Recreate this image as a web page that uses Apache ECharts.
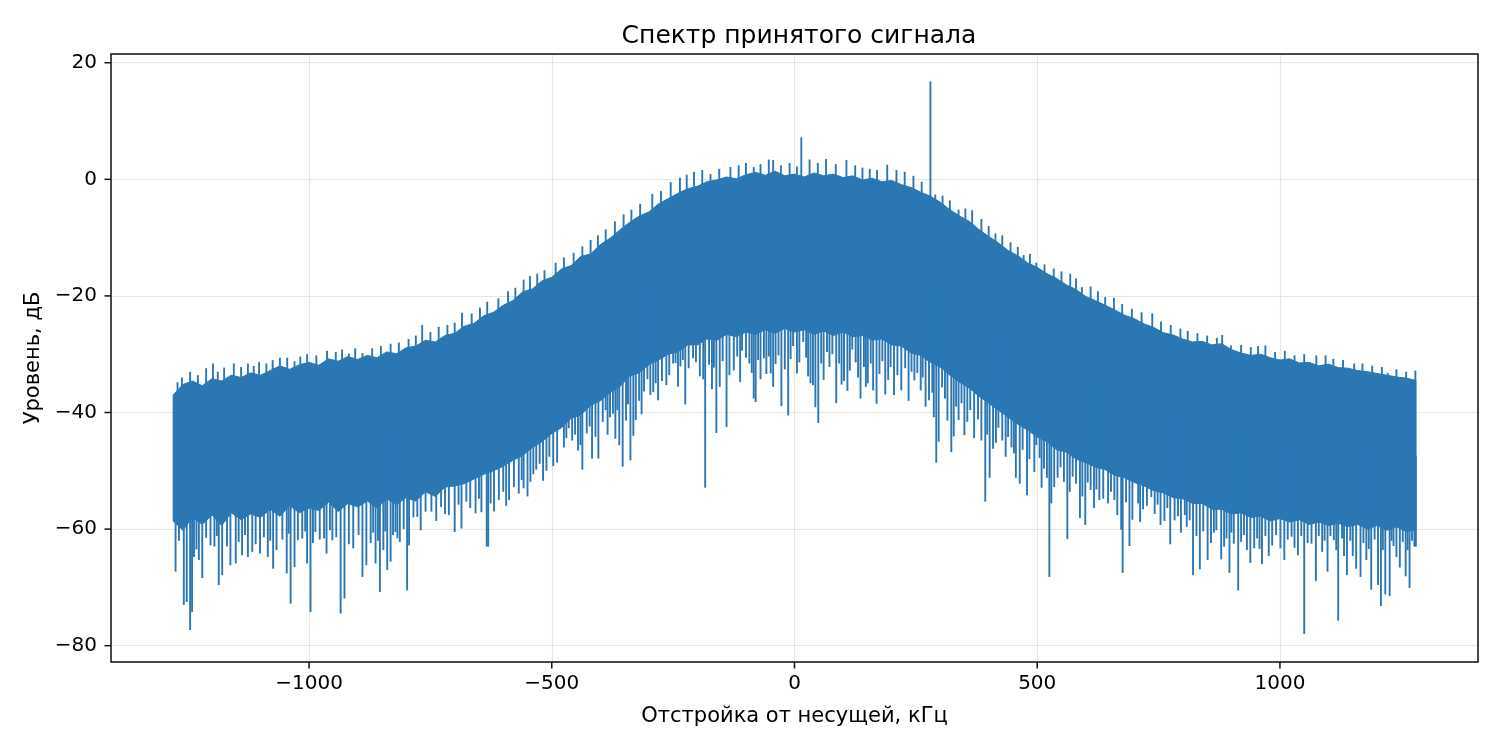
<!DOCTYPE html>
<html>
<head>
<meta charset="utf-8">
<title>Спектр принятого сигнала</title>
<script src="https://cdn.jsdelivr.net/npm/echarts@6/dist/echarts.min.js"></script>
<style>
    html,body{margin:0;padding:0;background:#fff;}
    #main{width:1500px;height:750px;}
</style>
</head>
<body>
<div id="main"></div>
<script>
/* частотная сетка огибающей, кГц (шаг 20) */
var freqKHz = [
    -1280,-1260,-1240,-1220,-1200,-1180,-1160,-1140,-1120,-1100,
    -1080,-1060,-1040,-1020,-1000,-980,-960,-940,-920,-900,
    -880,-860,-840,-820,-800,-780,-760,-740,-720,-700,
    -680,-660,-640,-620,-600,-580,-560,-540,-520,-500,
    -480,-460,-440,-420,-400,-380,-360,-340,-320,-300,
    -280,-260,-240,-220,-200,-180,-160,-140,-120,-100,
    -80,-60,-40,-20,0,20,40,60,80,100,
    120,140,160,180,200,220,240,260,280,300,
    320,340,360,380,400,420,440,460,480,500,
    520,540,560,580,600,620,640,660,680,700,
    720,740,760,780,800,820,840,860,880,900,
    920,940,960,980,1000,1020,1040,1060,1080,1100,
    1120,1140,1160,1180,1200,1220,1240,1260,1280
];
/* верхний край плотной полосы шума, дБ */
var topDb = [
    -37.0,-35.2,-34.6,-35.4,-34.2,-34.6,-33.6,-34.0,-33.2,-33.6,
    -32.8,-32.0,-32.6,-31.8,-31.4,-31.9,-30.8,-31.2,-30.4,-30.9,
    -30.2,-30.6,-29.6,-29.9,-28.9,-28.6,-27.6,-27.9,-26.8,-26.4,
    -25.2,-24.7,-23.4,-22.8,-21.6,-20.8,-19.3,-18.8,-17.4,-16.8,
    -15.4,-14.8,-13.2,-12.8,-11.2,-10.1,-8.7,-7.4,-6.3,-5.6,
    -4.2,-3.3,-2.4,-1.6,-1.2,-0.4,-0.1,0.4,0.1,0.8,
    1.2,0.7,1.4,0.6,0.9,0.4,1.1,0.6,0.9,0.3,
    0.6,-0.1,0.2,-0.4,-0.2,-0.9,-1.4,-2.2,-2.9,-3.9,
    -5.2,-6.3,-7.2,-8.6,-9.8,-10.9,-12.2,-13.1,-14.3,-15.1,
    -16.2,-17.0,-18.1,-18.9,-20.1,-20.8,-21.6,-22.4,-23.3,-23.9,
    -24.8,-25.4,-26.3,-26.7,-27.4,-27.9,-27.8,-28.4,-28.2,-29.2,
    -29.8,-30.2,-30.0,-30.6,-31.0,-30.8,-31.5,-31.4,-32.0,-31.7,
    -32.3,-32.4,-32.8,-33.0,-33.3,-33.6,-33.9,-34.1,-34.5
];
/* нижний край плотной полосы, дБ */
var coreDb = [
    -58.6,-60.2,-58.0,-59.2,-57.6,-59.4,-57.2,-58.4,-57.4,-58.0,
    -56.6,-57.8,-56.0,-57.2,-56.4,-56.8,-55.4,-57.0,-55.6,-56.2,
    -55.2,-56.4,-54.8,-55.8,-54.6,-55.2,-53.6,-54.4,-52.8,-52.6,
    -52.2,-51.4,-50.6,-50.0,-49.2,-48.2,-47.4,-46.0,-45.0,-43.6,
    -42.6,-41.0,-40.4,-38.8,-38.0,-36.6,-35.6,-33.8,-33.2,-31.8,
    -31.0,-30.0,-29.6,-28.4,-28.4,-27.4,-27.6,-26.6,-27.0,-26.2,
    -26.6,-25.8,-26.4,-25.6,-26.2,-25.8,-26.6,-26.0,-26.8,-26.2,
    -27.0,-26.8,-27.6,-27.4,-28.4,-28.6,-29.8,-30.2,-31.4,-32.2,
    -33.6,-34.8,-35.8,-37.2,-38.4,-39.6,-40.8,-42.0,-43.0,-44.2,
    -45.0,-46.4,-46.8,-48.0,-48.6,-49.4,-49.8,-50.8,-51.2,-52.0,
    -52.6,-53.4,-53.8,-54.6,-54.8,-55.6,-55.6,-56.6,-56.6,-57.4,
    -57.2,-58.0,-57.8,-58.6,-58.2,-58.8,-58.4,-59.2,-58.8,-59.4,
    -59.0,-59.6,-59.2,-60.0,-59.4,-60.2,-59.6,-60.4,-60.2
];
/* провалы ниже полосы: [кГц, дБ] */
var dips = [
    [-1275,-67.3],[-1258,-73.0],[-1252,-72.5],[-1245,-77.3],[-1241,-74.2],[-1237,-64.8],[-1227,-65.3],[-1220,-68.4],
    [-1195,-63.0],[-1186,-69.6],[-1179,-67.9],[-1162,-66.2],[-1151,-65.9],[-1138,-64.5],[-1126,-64.8],[-1117,-63.9],
    [-1101,-64.2],[-1085,-64.8],[-1074,-66.8],[-1067,-63.6],[-1046,-67.6],[-1038,-72.8],[-1030,-66.5],[-1023,-61.9],
    [-1014,-61.6],[-1004,-65.9],[-997,-74.2],[-987,-60.5],[-969,-61.6],[-964,-64.2],[-952,-61.9],[-935,-74.5],
    [-927,-71.9],[-909,-63.3],[-890,-68.2],[-882,-66.2],[-873,-62.4],[-863,-65.9],[-854,-70.8],[-847,-63.6],
    [-839,-67.0],[-832,-65.6],[-827,-61.0],[-822,-60.5],[-813,-62.2],[-798,-70.5],[-794,-62.8],[-777,-57.9],
    [-748,-57.0],[-720,-57.4],[-700,-60.5],[-686,-59.9],[-676,-55.3],[-657,-57.3],[-645,-57.1],[-634,-63.0],
    [-631,-63.0],[-619,-57.0],[-609,-55.0],[-588,-55.0],[-568,-53.9],[-558,-53.0],[-544,-51.9],[-532,-49.8],
    [-518,-51.7],[-511,-50.0],[-489,-48.6],[-482,-42.5],[-465,-42.7],[-458,-44.8],[-446,-46.5],[-437,-49.8],
    [-428,-43.6],[-417,-47.9],[-404,-47.9],[-389,-39.6],[-380,-40.8],[-369,-44.5],[-361,-45.6],[-354,-49.3],
    [-338,-48.2],[-327,-41.3],[-315,-40.3],[-303,-34.3],[-291,-36.5],[-281,-37.9],[-264,-35.3],[-245,-31.5],
    [-235,-32.1],[-225,-38.6],[-209,-30.7],[-188,-34.3],[-184,-52.9],[-166,-32.3],[-161,-43.5],[-154,-35.6],
    [-140,-42.5],[-125,-32.8],[-108,-29.4],[-93,-31.6],[-84,-37.6],[-80,-38.2],[-70,-34.3],[-63,-30.7],
    [-49,-33.3],[-39,-31.7],[-27,-38.9],[-13,-40.5],[-3,-28.6],[5,-33.3],[18,-27.9],[33,-35.0],
    [38,-35.3],[43,-39.1],[49,-41.8],[67,-29.6],[78,-30.0],[86,-38.4],[102,-34.6],[109,-36.3],
    [119,-29.2],[136,-37.6],[151,-35.0],[162,-36.2],[169,-38.5],[187,-36.9],[205,-37.0],[220,-36.2],
    [247,-34.5],[253,-33.2],[270,-39.0],[277,-37.9],[292,-48.6],[297,-45.0],[304,-35.7],[323,-46.8],
    [328,-44.1],[338,-41.3],[350,-43.9],[393,-55.3],[402,-51.2],[409,-46.2],[428,-44.8],[452,-47.0],
    [456,-51.2],[464,-52.2],[479,-54.2],[490,-43.0],[498,-45.6],[509,-52.9],[520,-51.2],[525,-68.2],
    [529,-55.6],[542,-51.2],[555,-51.9],[562,-61.7],[573,-51.0],[588,-58.1],[599,-59.3],[610,-53.3],
    [628,-55.0],[646,-55.6],[659,-55.0],[673,-60.1],[676,-67.5],[690,-62.9],[701,-51.9],[718,-56.6],
    [735,-54.5],[754,-59.3],[774,-62.6],[783,-58.5],[804,-57.6],[814,-58.5],[821,-67.9],[835,-66.9],
    [851,-65.3],[869,-60.2],[879,-65.2],[885,-63.0],[896,-67.5],[905,-62.5],[914,-70.5],[920,-62.2],
    [939,-65.8],[947,-63.3],[963,-66.0],[977,-64.6],[1001,-63.3],[1009,-65.3],[1024,-61.3],[1037,-64.5],
    [1050,-78.0],[1065,-62.5],[1074,-68.9],[1087,-63.9],[1098,-67.3],[1111,-61.9],[1120,-75.7],[1138,-67.9],
    [1157,-66.8],[1166,-68.2],[1178,-65.3],[1188,-70.4],[1202,-69.6],[1208,-73.2],[1217,-71.2],[1226,-71.5],
    [1234,-62.9],[1247,-66.6],[1259,-68.1],[1267,-70.1],[1277,-63.0],[1280,-63.0],
    [-1268,-62.0],[-1232,-63.5],[-1212,-61.5],[-1203,-62.8],[-1190,-61.2],[-1169,-63.0],[-1145,-62.2],[-1132,-61.0],
    [-1110,-62.6],[-1093,-61.4],[-1080,-62.0],[-1055,-61.8],[-1042,-60.8],[-1008,-60.4],[-992,-62.4],[-978,-61.8],
    [-957,-60.2],[-944,-61.4],[-918,-62.6],[-898,-61.0],[-868,-60.6],[-858,-62.0],[-843,-60.4],[-818,-61.6],
    [-805,-60.0],[-785,-58.0],[-770,-60.2],[-760,-57.0],[-738,-58.6],[-728,-56.2],[-712,-57.6],[-692,-55.8],
    [-668,-56.4],[-650,-54.8],[-626,-55.6],[-600,-53.6],[-594,-56.0],[-578,-52.8],[-562,-51.6],[-550,-54.4],
    [-538,-50.6],[-525,-48.8],[-505,-47.6],[-497,-49.2],[-475,-46.0],[-470,-44.4],[-452,-43.8],[-441,-45.6],
    [-422,-42.4],[-410,-44.2],[-395,-41.6],[-385,-43.8],[-374,-40.2],[-365,-39.6],[-347,-41.4],[-343,-38.6],
    [-332,-44.0],[-320,-38.0],[-310,-36.4],[-297,-37.0],[-286,-35.0],[-273,-34.6],[-258,-33.6],[-250,-31.6],
    [-240,-35.6],[-230,-31.0],[-218,-32.4],[-203,-31.4],[-195,-33.8],[-176,-31.8],[-170,-36.0],[-148,-31.2],
    [-134,-33.6],[-118,-30.4],[-112,-34.8],[-100,-30.6],[-88,-33.2],[-75,-31.0],[-58,-33.4],[-53,-30.4],
    [-44,-35.6],[-33,-30.2],[-20,-32.6],[-8,-30.8],[10,-31.4],[24,-30.6],[28,-33.8],[55,-31.6],
    [60,-34.4],[72,-32.2],[92,-31.6],[97,-35.2],[114,-32.8],[126,-31.4],[131,-34.0],[143,-32.2],
    [147,-35.6],[157,-31.6],[175,-33.4],[181,-31.2],[193,-34.4],[198,-32.2],[212,-33.6],[228,-32.4],
    [235,-38.0],[241,-33.0],[260,-36.2],[264,-34.0],[284,-36.6],[287,-40.8],[310,-37.6],[315,-41.4],
    [333,-39.0],[344,-38.4],[356,-41.6],[362,-39.6],[370,-44.4],[378,-41.2],[385,-44.8],[397,-43.8],
    [415,-45.2],[420,-42.6],[435,-47.6],[440,-44.2],[447,-46.0],[470,-46.4],[484,-48.0],[494,-50.2],
    [505,-47.8],[514,-49.6],[535,-52.8],[548,-49.4],[567,-53.6],[580,-52.2],[593,-54.4],[604,-52.0],
    [617,-56.4],[622,-53.2],[636,-54.8],[652,-53.6],[665,-57.6],[683,-55.4],[696,-58.4],[708,-55.6],
    [712,-58.8],[726,-56.0],[742,-57.4],[748,-55.8],[762,-58.6],[768,-56.4],[790,-57.8],[796,-60.6],
    [808,-59.6],[828,-61.2],[842,-60.4],[858,-62.4],[864,-60.6],[890,-61.6],[900,-60.6],[926,-61.0],
    [932,-63.6],[953,-61.6],[958,-63.4],[970,-61.2],[984,-62.8],[992,-61.0],[1016,-61.8],[1030,-63.2],
    [1044,-61.2],[1057,-62.4],[1080,-61.2],[1092,-62.0],[1104,-61.2],[1116,-63.6],[1128,-61.6],[1132,-64.6],
    [1145,-62.0],[1150,-64.6],[1172,-62.4],[1183,-63.4],[1195,-61.8],[1212,-63.6],[1230,-62.0],[1240,-64.8],
    [1253,-62.2],[1263,-63.6],[1272,-62.0]
];
/* выбросы над полосой: [кГц, дБ] */
var peaks = [
    [-1271,-34.8],[-1245,-33.0],[-1229,-33.6],[-1198,-31.6],[-1175,-32.3],[-1155,-31.6],[-1126,-31.6],[-1103,-31.3],
    [-1060,-30.6],[-1045,-30.6],[-1004,-30.0],[-963,-29.4],[-918,-29.9],[-890,-29.8],[-832,-28.2],[-767,-25.0],
    [-733,-25.3],[-685,-22.9],[-633,-21.0],[-558,-17.2],[-530,-16.2],[-492,-14.3],[-437,-11.5],[-389,-8.6],
    [-336,-5.2],[-293,-2.5],[-255,-0.5],[-236,0.3],[-207,1.3],[-173,0.9],[-132,2.1],[-84,2.1],
    [-53,3.4],[-44,3.3],[14,7.2],[31,3.4],[65,3.5],[107,3.3],[155,1.8],[191,2.5],
    [227,1.3],[280,16.8],[290,-2.6],[338,-5.2],[366,-5.3],[414,-9.3],[472,-13.0],[498,-14.3],
    [534,-15.3],[568,-16.2],[592,-18.5],[658,-20.3],[737,-23.0],[795,-25.6],[881,-26.7],[899,-28.5],
    [970,-28.5],[1075,-30.2],[1094,-30.2],[1153,-31.6],[1222,-33.2],[1279,-32.8],
    [-1262,-34.0],[-1212,-32.4],[-1188,-33.0],[-1140,-32.2],[-1114,-32.0],[-1088,-31.6],[-1075,-31.0],[-1030,-31.2],
    [-1018,-30.4],[-985,-30.2],[-945,-29.6],[-932,-29.2],[-905,-29.0],[-870,-29.0],[-852,-28.6],[-815,-28.0],
    [-795,-27.4],[-780,-26.8],[-750,-26.2],[-715,-25.0],[-700,-24.6],[-665,-23.0],[-648,-22.0],[-610,-20.4],
    [-590,-19.2],[-575,-18.6],[-545,-16.6],[-515,-15.6],[-475,-13.4],[-455,-12.6],[-420,-10.4],[-405,-9.6],
    [-370,-7.2],[-352,-6.0],[-318,-4.2],[-275,-2.0],[-222,0.8],[-190,1.6],[-155,1.8],[-115,2.4],
    [-100,2.8],[-70,2.6],[-28,2.4],[-10,2.8],[5,2.2],[48,2.8],[85,2.6],[125,2.4],
    [140,2.0],[170,1.6],[210,1.6],[245,0.6],[262,-0.4],[305,-2.8],[320,-3.6],[352,-5.0],
    [385,-6.8],[400,-8.0],[428,-9.6],[445,-10.8],[460,-11.6],[485,-12.8],[515,-14.6],[550,-15.8],
    [580,-17.0],[610,-18.4],[625,-19.2],[640,-20.2],[675,-21.4],[695,-22.2],[715,-22.8],[755,-24.4],
    [775,-25.0],[810,-26.0],[830,-26.4],[850,-26.8],[870,-27.2],[920,-28.4],[940,-28.8],[955,-28.6],
    [990,-29.6],[1010,-29.4],[1030,-30.2],[1050,-30.0],[1110,-30.8],[1130,-31.0],[1170,-31.6],[1190,-32.0],
    [1210,-32.2],[1240,-32.6],[1260,-33.0]
];
var xTicks = [-1000,-500,0,500,1000];
var yTicks = [-80,-60,-40,-20,0,20];

var xMin = -1408, xMax = 1408, yMin = -82.8, yMax = 21.5;
var lineColor = '#2a77b4';
var fontName = 'DejaVu Sans';
var frameColor = '#111111';

function nearestIdx(f){
    var best=0;
    for(var i=1;i<freqKHz.length;i++){
        if(Math.abs(freqKHz[i]-f)<Math.abs(freqKHz[best]-f)){ best=i; }
    }
    return best;
}
function minusFmt(v){
    return String(v).replace('-', '\u2212');
}

// плотная полоса: многоугольник между верхним и нижним краем
function renderBand(params, api){
    var pts=[];
    for(var i=0;i<freqKHz.length;i++){ pts.push(api.coord([freqKHz[i], topDb[i]])); }
    for(var j=freqKHz.length-1;j>=0;j--){ pts.push(api.coord([freqKHz[j], coreDb[j]])); }
    return {
        type:'polygon',
        shape:{points:pts},
        style:{fill:lineColor, stroke:lineColor, lineWidth:1}
    };
}
// отдельный выброс: вертикальная линия от середины полосы до значения
function renderSpike(params, api){
    var f=api.value(0), k=nearestIdx(f);
    var mid=(topDb[k]+coreDb[k])/2;
    var p0=api.coord([f, mid]), p1=api.coord([f, api.value(1)]);
    return {
        type:'line',
        shape:{x1:p0[0], y1:p0[1], x2:p1[0], y2:p1[1]},
        style:{stroke:lineColor, lineWidth:1.9}
    };
}

var option = {
    animation:false,
    title:{
        text:'Спектр принятого сигнала',
        left:794, top:19, textAlign:'center',
        textStyle:{fontFamily:fontName, fontSize:25, fontWeight:'normal', color:'#000'}
    },
    grid:{left:111, top:54, right:22, bottom:88, show:false},
    xAxis:{
        type:'value', min:xMin, max:xMax, splitNumber:5,
        name:'Отстройка от несущей, кГц', nameLocation:'middle', nameGap:44,
        nameTextStyle:{fontFamily:fontName, fontSize:21, color:'#000'},
        axisLine:{show:false, onZero:false},
        axisTick:{show:false},
        axisLabel:{customValues:xTicks, margin:12, fontFamily:fontName, fontSize:20, color:'#000', formatter:minusFmt},
        splitLine:{show:true, lineStyle:{color:'#e6e6e6', width:1.2}}
    },
    yAxis:{
        type:'value', min:yMin, max:yMax, splitNumber:5,
        name:'Уровень, дБ', nameLocation:'middle', nameGap:66,
        nameTextStyle:{fontFamily:fontName, fontSize:21, color:'#000'},
        axisLine:{show:false, onZero:false},
        axisTick:{show:false},
        axisLabel:{customValues:yTicks, margin:14, fontFamily:fontName, fontSize:20, color:'#000', formatter:minusFmt},
        splitLine:{show:true, lineStyle:{color:'#e6e6e6', width:1.2}}
    },
    series:[
        {type:'custom', renderItem:renderBand, data:[[0,-30]], clip:true, silent:true},
        {type:'custom', renderItem:renderSpike, data:dips, clip:true, silent:true},
        {type:'custom', renderItem:renderSpike, data:peaks, clip:true, silent:true}
    ]
};

var myChart = echarts.init(document.getElementById('main'));
myChart.setOption(option);

// рамка и засечки: позиции берутся из шкал графика (convertToPixel)
var toPx = function(p){ return myChart.convertToPixel({gridIndex:0}, p); };
var lt = toPx([xMin, yMax]), rb = toPx([xMax, yMin]);
var marks = [{
    type:'rect', z:100, silent:true,
    shape:{x:lt[0], y:lt[1], width:rb[0]-lt[0], height:rb[1]-lt[1]},
    style:{fill:null, stroke:frameColor, lineWidth:1.5}
}];
xTicks.forEach(function(v){
    var p = toPx([v, yMin]);
    marks.push({type:'line', z:100, silent:true,
        shape:{x1:p[0], y1:p[1], x2:p[0], y2:p[1]+6.5},
        style:{stroke:frameColor, lineWidth:1.5}});
});
yTicks.forEach(function(v){
    var p = toPx([xMin, v]);
    marks.push({type:'line', z:100, silent:true,
        shape:{x1:p[0], y1:p[1], x2:p[0]-6.5, y2:p[1]},
        style:{stroke:frameColor, lineWidth:1.5}});
});
myChart.setOption({graphic:{elements:marks}});
</script>
</body>
</html>
